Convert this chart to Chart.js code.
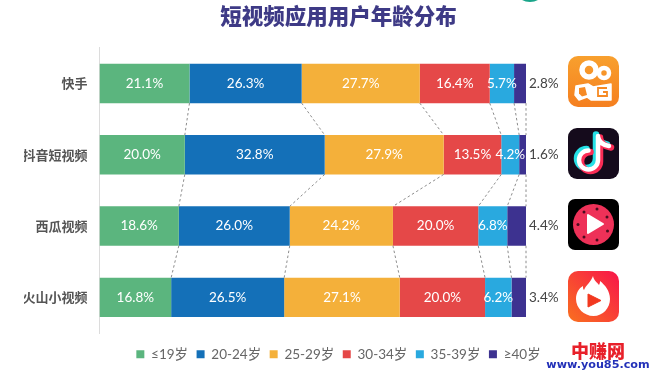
<!DOCTYPE html>
<html><head><meta charset="utf-8">
<script src="https://cdn.jsdelivr.net/npm/chart.js@4/dist/chart.umd.js"></script>
<style>
html,body{margin:0;padding:0;background:#fff;}
#wrap{position:relative;width:653px;height:376px;overflow:hidden;}
canvas{position:absolute;left:0;top:0;}
svg{position:absolute;}
.wm{position:absolute;left:543px;text-align:center;width:110px;white-space:nowrap;}
</style></head><body>
<div id="wrap">
<canvas id="c" width="653" height="376"></canvas>

<svg style="left:568px;top:56px" width="51" height="51" viewBox="0 0 51 51">
<defs><linearGradient id="g1" x1="0" y1="0" x2="0" y2="1"><stop offset="0" stop-color="#f8a02e"/><stop offset="1" stop-color="#f57f1f"/></linearGradient></defs>
<rect width="51" height="51" rx="10" fill="url(#g1)"/>
<circle cx="21" cy="14" r="7" fill="none" stroke="#fff" stroke-width="5.500"/>
<circle cx="36" cy="17" r="5" fill="none" stroke="#fff" stroke-width="4.500"/>
<path d="M8 30l12-2 5 3 18-3v16h-20l-4-3-8 3-4-5z" fill="#fff" stroke="#fff" stroke-width="1.500" stroke-linejoin="round"/>
<path d="M11 32l6-1 2 8-5 1.500-3-3z" fill="#f68a24"/>
<path d="M39 32h-9v8h9v-4h-4" fill="none" stroke="#f68a24" stroke-width="1.800"/>
</svg>

<svg style="left:568px;top:128px" width="51" height="51" viewBox="0 0 51 51">
<rect width="51" height="51" rx="9" fill="#150b1c"/>
<g fill="none" stroke-linecap="round" stroke-width="6.500">
<path d="M30 8v24a9.500 9.500 0 1 1-9.500-9.500M30 9c1 5 5 8 11 9" stroke="#25e0e6" transform="translate(-2,-1.500)"/>
<path d="M30 8v24a9.500 9.500 0 1 1-9.500-9.500M30 9c1 5 5 8 11 9" stroke="#fb2c55" transform="translate(2,1.500)"/>
<path d="M30 8v24a9.500 9.500 0 1 1-9.500-9.500M30 9c1 5 5 8 11 9" stroke="#fff" stroke-width="4.500"/>
</g>
</svg>

<svg style="left:568px;top:199px" width="51" height="51" viewBox="0 0 51 51">
<rect width="51" height="51" rx="7" fill="#000"/>
<circle cx="25.500" cy="25.500" r="20.500" fill="#ee3158"/>
<g fill="#4a0d1f"><circle cx="29" cy="10" r="1.500"/><circle cx="39" cy="18" r="1.500"/><circle cx="39.500" cy="32" r="1.500"/><circle cx="29" cy="41" r="1.500"/><circle cx="16" cy="38" r="1.500"/><circle cx="10" cy="25.500" r="1.500"/><circle cx="16" cy="13" r="1.500"/></g>
<path d="M20 16v18l15-9z" fill="#fff" stroke="#fff" stroke-width="2" stroke-linejoin="round"/>
</svg>

<svg style="left:568px;top:271px" width="51" height="51" viewBox="0 0 51 51">
<defs><linearGradient id="g4" x1="0" y1="1" x2="1" y2="0"><stop offset="0" stop-color="#f9701f"/><stop offset="1" stop-color="#f8154a"/></linearGradient></defs>
<rect width="51" height="51" rx="10" fill="url(#g4)"/>
<path d="M25 5c1 5 4 6 6 9 1-2 1-3 1-4 5 4 10 10 10 18 0 9-7 17-16.500 17S8 37 8 28c0-6 3-11 7-13 0 2 0 3 1 4 2-5 7-8 9-14z" fill="#fff"/>
<path d="M20 23v13l13-6.500z" fill="#f2381f" stroke="#f2381f" stroke-width="1" stroke-linejoin="round"/>
</svg>

<svg style="left:515px;top:0" width="30" height="3"><path d="M3 -6a12 8 0 0 0 24 0z" fill="#1aa58a"/></svg>

<div class="wm" style="top:340px;color:#e8202a;font:900 18px 'Noto Sans CJK SC';line-height:20px;">中赚网</div>
<div class="wm" style="top:358px;color:#2230b8;font:bold 11.200px 'DejaVu Sans';line-height:14px;">www.you85.com</div>
</div>
<script>
const categories = ['快手','抖音短视频','西瓜视频','火山小视频'];
const seriesNames = ['≤19岁','20-24岁','25-29岁','30-34岁','35-39岁','≥40岁'];
const under19 = [21.1,20.0,18.6,16.8];
const age20to24 = [26.3,32.8,26.0,26.5];
const age25to29 = [27.7,27.9,24.2,27.1];
const age30to34 = [16.4,13.5,20.0,20.0];
const age35to39 = [5.7,4.2,6.8,6.2];
const over40 = [2.8,1.6,4.4,3.4];
const seriesValues = [under19,age20to24,age25to29,age30to34,age35to39,over40];
const colors = ['#5bb57e','#1470b8','#f4b03a','#e54848','#29a9df','#3d3290'];

const overlay = {
  id:'overlay',
  afterDatasetsDraw(chart){
    const {ctx,scales:{x}} = chart;
    const metas = chart.data.datasets.map((d,i)=>chart.getDatasetMeta(i));
    ctx.save();
    ctx.strokeStyle='#6f6f6f';ctx.lineWidth=0.8;ctx.setLineDash([2.5,2.5]);
    metas.forEach(m=>{
      for(let r=0;r<categories.length-1;r++){
        const a=m.data[r],b=m.data[r+1];
        ctx.beginPath();
        ctx.moveTo(a.x,a.y+a.height/2);
        ctx.lineTo(b.x,b.y-b.height/2);
        ctx.stroke();
      }
    });
    ctx.setLineDash([]);
    ctx.textBaseline='middle';
    ctx.font="13.5px Lato";
    metas.forEach((m,s)=>{
      m.data.forEach((el,r)=>{
        const txt=seriesValues[s][r].toFixed(1)+'%';
        if(s===metas.length-1){
          ctx.fillStyle='#444';ctx.textAlign='left';
          ctx.fillText(txt,x.right+3,el.y);
        }else{
          ctx.fillStyle='#fff';ctx.textAlign='center';
          ctx.fillText(txt,(el.x+el.base)/2,el.y);
        }
      });
    });
    ctx.restore();
  }
};

new Chart(document.getElementById('c'),{
  type:'bar',
  data:{labels:categories,datasets:seriesNames.map((n,i)=>({
    label:n,data:seriesValues[i],backgroundColor:colors[i],borderWidth:0,
    xAxisID:'x',yAxisID:'y',categoryPercentage:1,barPercentage:0.552
  }))},
  options:{
    indexAxis:'y',responsive:false,animation:false,
    layout:{padding:{left:24,right:0,top:3,bottom:5}},
    plugins:{
      tooltip:{enabled:false},
      title:{display:true,text:'短视频应用用户年龄分布',color:'#3e3a86',
        font:{family:"'Noto Sans CJK SC'",size:21.5,weight:'900'},padding:{top:0,bottom:19}},
      legend:{display:true,position:'bottom',
        labels:{usePointStyle:true,pointStyle:'rect',boxWidth:8,boxHeight:8,padding:8.5,
          color:'#666',font:{family:"Lato, 'Noto Sans CJK SC'",size:13.5}}}
    },
    scales:{
      x:{type:'linear',stacked:true,min:0,max:100,position:'bottom',display:true,
        grid:{display:false},border:{display:false},ticks:{display:false},
        afterFit(s){s.height=6;}},
      y:{type:'category',stacked:true,position:'left',
        grid:{display:false,drawTicks:false},
        border:{display:true,color:'#dcdcdc',width:1},
        ticks:{color:'#555',padding:12,font:{family:"'Noto Sans CJK SC'",size:13,weight:'bold'}},
        afterFit(s){s.width=75.5;}},
      yRight:{type:'linear',position:'right',display:true,
        grid:{display:false},border:{display:false},ticks:{display:false},
        afterFit(s){s.width=127;}}
    }
  },
  plugins:[overlay]
});
</script>
</body></html>
